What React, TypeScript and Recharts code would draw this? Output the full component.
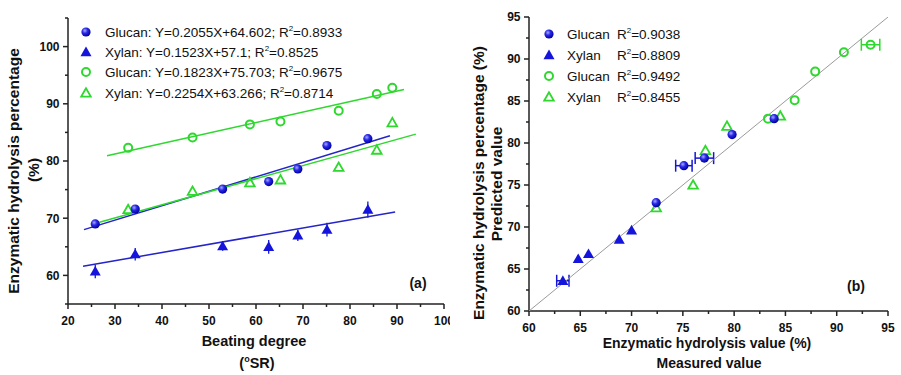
import React from "react";
import { ScatterChart, Scatter, XAxis, YAxis, ErrorBar } from "recharts";

// (a) beating degree vs hydrolysis
const blueDegree = [25.8, 34.3, 52.9, 62.7, 68.9, 75.1, 83.8];
const glucanBlue = [69.0, 71.6, 75.1, 76.4, 78.6, 82.7, 83.9];
const xylanBlue = [60.7, 63.7, 65.1, 65.0, 67.0, 68.0, 71.5];
const xylanBlueErr = [1.2, 1.1, 0.8, 1.2, 1.0, 1.2, 1.4];
const greenDegree = [32.8, 46.5, 58.7, 65.2, 77.6, 85.7, 89.0];
const glucanGreen = [82.3, 84.1, 86.4, 86.9, 88.8, 91.7, 92.8];
const xylanGreen = [71.5, 74.7, 76.2, 76.7, 78.9, 81.9, 86.7];

// fitted line end points
const fitBlueGlucan = [[23.4, 68.0], [88.5, 84.4]];
const fitBlueXylan = [[23.2, 61.6], [89.6, 71.1]];
const fitGreenGlucan = [[28.3, 80.9], [91.5, 92.5]];
const fitGreenXylan = [[26.7, 69.3], [94.0, 84.7]];

// (b) measured vs predicted
const gbMeasured = [72.4, 75.1, 77.1, 79.8, 83.9];
const gbPredicted = [72.9, 77.3, 78.2, 81.0, 82.9];
const gbErr = [0, 0.8, 0.9, 0, 0];
const xbMeasured = [63.3, 64.8, 65.8, 68.8, 70.0];
const xbPredicted = [63.6, 66.2, 66.8, 68.5, 69.6];
const xbErr = [0.6, 0, 0, 0, 0];
const ggMeasured = [83.3, 85.9, 87.9, 90.7, 93.3];
const ggPredicted = [82.9, 85.1, 88.5, 90.8, 91.7];
const ggErr = [0, 0, 0, 0, 0.9];
const xgMeasured = [72.4, 76.0, 77.2, 79.3, 84.5];
const xgPredicted = [72.3, 75.0, 79.1, 82.0, 83.2];
const diagonal = [[60, 60], [95, 95]];

const ticksA_x = [20, 25, 30, 35, 40, 45, 50, 55, 60, 65, 70, 75, 80, 85, 90, 95, 100];
const ticksA_y = [55, 60, 65, 70, 75, 80, 85, 90, 95, 100, 105];
const ticksB = [60, 62.5, 65, 67.5, 70, 72.5, 75, 77.5, 80, 82.5, 85, 87.5, 90, 92.5, 95];

const BLUE = "#1414dc";
const GREEN = "#2ed82e";
const AXIS = "#222";
const FONT = "'Liberation Sans', Arial, sans-serif";

const zip = (xs: number[], ys: number[], es?: number[]) =>
  xs.map((x, i) => ({ x, y: ys[i], e: es ? es[i] : 0 }));
const pts = (p: number[][]) => p.map(([x, y]) => ({ x, y }));

const isMajor = (v: number, step: number) => Math.abs(v / step - Math.round(v / step)) < 1e-6;

const xTick = (step: number) => (props: any) => {
  const { x, y, payload } = props;
  const major = isMajor(payload.value, step);
  return (
    <g>
      <line x1={x} x2={x} y1={y} y2={y + (major ? 5 : 3)} stroke={AXIS} strokeWidth={1.5} />
      {major && (
        <text x={x} y={y + 20.5} textAnchor="middle" fontSize={12} fontWeight="bold" fontFamily={FONT} fill="#111">
          {payload.value}
        </text>
      )}
    </g>
  );
};

const yTick = (step: number) => (props: any) => {
  const { x, y, payload } = props;
  const major = isMajor(payload.value, step);
  return (
    <g>
      <line x1={x} x2={x - (major ? 5 : 3)} y1={y} y2={y} stroke={AXIS} strokeWidth={1.5} />
      {major && (
        <text x={x - 8.5} y={y + 4.3} textAnchor="end" fontSize={12} fontWeight="bold" fontFamily={FONT} fill="#111">
          {payload.value}
        </text>
      )}
    </g>
  );
};

const Ball = (p: any) => <circle cx={p.cx} cy={p.cy} r={4.6} fill="url(#blueBall)" />;
const Ring = (p: any) => <circle cx={p.cx} cy={p.cy} r={4} fill="none" stroke={GREEN} strokeWidth={2} />;
const triPts = (cx: number, cy: number, s = 5.5) =>
  `${cx},${cy - s} ${cx - s},${cy + s * 0.75} ${cx + s},${cy + s * 0.75}`;
const SolidTri = (p: any) => <polygon points={triPts(p.cx, p.cy)} fill={BLUE} />;
const OpenTri = (p: any) => (
  <polygon points={triPts(p.cx, p.cy, 4.8)} fill="none" stroke={GREEN} strokeWidth={1.8} />
);
const NoDot = () => <g />;

const legendA = [
  { shape: "ball", text: "Glucan: Y=0.2055X+64.602; R", r2: "=0.8933" },
  { shape: "tri", text: "Xylan: Y=0.1523X+57.1; R", r2: "=0.8525" },
  { shape: "ring", text: "Glucan: Y=0.1823X+75.703; R", r2: "=0.9675" },
  { shape: "otri", text: "Xylan: Y=0.2254X+63.266; R", r2: "=0.8714" },
];
const legendB = [
  { shape: "ball", name: "Glucan", r2: "=0.9038" },
  { shape: "tri", name: "Xylan", r2: "=0.8809" },
  { shape: "ring", name: "Glucan", r2: "=0.9492" },
  { shape: "otri", name: "Xylan", r2: "=0.8455" },
];

const symbol = (shape: string, cx: number, cy: number) => {
  if (shape === "ball") return <Ball cx={cx} cy={cy} />;
  if (shape === "tri") return <SolidTri cx={cx} cy={cy} />;
  if (shape === "ring") return <Ring cx={cx} cy={cy} />;
  return <OpenTri cx={cx} cy={cy} />;
};

const textStyle = { fontFamily: FONT, fill: "#111" };

export default function App() {
  return (
    <div style={{ position: "absolute", left: 0, top: 0, width: 901, height: 375, background: "#fff", overflow: "hidden" }}>
      <svg width={0} height={0} style={{ position: "absolute" }}>
        <defs>
          <radialGradient id="blueBall" cx="38%" cy="35%" r="65%">
            <stop offset="0%" stopColor="#a8a8ff" />
            <stop offset="45%" stopColor="#2828e6" />
            <stop offset="100%" stopColor="#0000a0" />
          </radialGradient>
        </defs>
      </svg>

      <div style={{ position: "absolute", left: 0, top: 0 }}>
        <ScatterChart width={450} height={375} margin={{ top: 18, right: 6, bottom: 0, left: 0 }}>
          <XAxis type="number" dataKey="x" domain={[20, 100]} ticks={ticksA_x} interval={0}
            height={71} tickSize={0} tickMargin={0} tickLine={false} tick={xTick(10)}
            axisLine={{ stroke: AXIS, strokeWidth: 1.5 }} allowDataOverflow />
          <XAxis xAxisId="top" orientation="top" type="number" dataKey="x" domain={[20, 100]} height={0}
            tick={false} axisLine={{ stroke: AXIS, strokeWidth: 1.5 }} />
          <YAxis type="number" dataKey="y" domain={[55, 105]} ticks={ticksA_y} interval={0}
            width={68} tickSize={0} tickMargin={0} tickLine={false} tick={yTick(10)}
            axisLine={{ stroke: AXIS, strokeWidth: 1.5 }} allowDataOverflow />
          <YAxis yAxisId="right" orientation="right" type="number" dataKey="y" domain={[55, 105]} width={0}
            tick={false} axisLine={{ stroke: AXIS, strokeWidth: 1.5 }} />

          <Scatter data={pts(fitBlueGlucan)} shape={NoDot} line={{ stroke: "#2424c8", strokeWidth: 1.5 }} isAnimationActive={false} />
          <Scatter data={pts(fitBlueXylan)} shape={NoDot} line={{ stroke: "#2424c8", strokeWidth: 1.5 }} isAnimationActive={false} />
          <Scatter data={pts(fitGreenGlucan)} shape={NoDot} line={{ stroke: GREEN, strokeWidth: 1.5 }} isAnimationActive={false} />
          <Scatter data={pts(fitGreenXylan)} shape={NoDot} line={{ stroke: GREEN, strokeWidth: 1.5 }} isAnimationActive={false} />

          <Scatter data={zip(greenDegree, glucanGreen)} shape={Ring} isAnimationActive={false} />
          <Scatter data={zip(greenDegree, xylanGreen)} shape={OpenTri} isAnimationActive={false} />
          <Scatter data={zip(blueDegree, glucanBlue)} shape={Ball} isAnimationActive={false} />
          <Scatter data={zip(blueDegree, xylanBlue, xylanBlueErr)} shape={SolidTri} isAnimationActive={false}>
            <ErrorBar dataKey="e" direction="y" width={0} stroke={BLUE} strokeWidth={1.3} />
          </Scatter>
        </ScatterChart>
      </div>

      <div style={{ position: "absolute", left: 450, top: 0 }}>
        <ScatterChart width={451} height={375} margin={{ top: 17, right: 13, bottom: 0, left: 0 }}>
          <XAxis type="number" dataKey="x" domain={[60, 95]} ticks={ticksB} interval={0}
            height={64} tickSize={0} tickMargin={0} tickLine={false} tick={xTick(5)}
            axisLine={{ stroke: AXIS, strokeWidth: 1.5 }} allowDataOverflow />
          <XAxis xAxisId="top" orientation="top" type="number" dataKey="x" domain={[60, 95]} height={0}
            tick={false} axisLine={{ stroke: AXIS, strokeWidth: 1.5 }} />
          <YAxis type="number" dataKey="y" domain={[60, 95]} ticks={ticksB} interval={0}
            width={79} tickSize={0} tickMargin={0} tickLine={false} tick={yTick(5)}
            axisLine={{ stroke: AXIS, strokeWidth: 1.5 }} allowDataOverflow />
          <YAxis yAxisId="right" orientation="right" type="number" dataKey="y" domain={[60, 95]} width={0}
            tick={false} axisLine={{ stroke: AXIS, strokeWidth: 1.5 }} />

          <Scatter data={pts(diagonal)} shape={NoDot} line={{ stroke: "#9a9a9a", strokeWidth: 1 }} isAnimationActive={false} />

          <Scatter data={zip(xgMeasured, xgPredicted)} shape={OpenTri} isAnimationActive={false} />
          <Scatter data={zip(ggMeasured, ggPredicted, ggErr)} shape={Ring} isAnimationActive={false}>
            <ErrorBar dataKey="e" direction="x" width={6} stroke={GREEN} strokeWidth={1.5} />
          </Scatter>
          <Scatter data={zip(gbMeasured, gbPredicted, gbErr)} shape={Ball} isAnimationActive={false}>
            <ErrorBar dataKey="e" direction="x" width={6} stroke={BLUE} strokeWidth={1.5} />
          </Scatter>
          <Scatter data={zip(xbMeasured, xbPredicted, xbErr)} shape={SolidTri} isAnimationActive={false}>
            <ErrorBar dataKey="e" direction="x" width={6} stroke={BLUE} strokeWidth={1.5} />
          </Scatter>
        </ScatterChart>
      </div>

      <svg width={901} height={375} style={{ position: "absolute", left: 0, top: 0, pointerEvents: "none" }}>
        {/* panel (a) */}
        <text transform="translate(18.5,171) rotate(-90)" textAnchor="middle" fontSize={15.5} fontWeight="bold" {...textStyle}>
          Enzymatic hydrolysis percentage
        </text>
        <text transform="translate(38.5,170) rotate(-90)" textAnchor="middle" fontSize={15.5} fontWeight="bold" {...textStyle}>
          (%)
        </text>
        <text x={254} y={346} textAnchor="middle" fontSize={14.5} fontWeight="bold" {...textStyle}>
          Beating degree
        </text>
        <text x={257} y={368} textAnchor="middle" fontSize={14.5} fontWeight="bold" {...textStyle}>
          (<tspan fontSize={9} dy={-6}>o</tspan><tspan dy={6}>SR)</tspan>
        </text>
        <text x={418} y={288} textAnchor="middle" fontSize={14} fontWeight="bold" {...textStyle}>(a)</text>
        {legendA.map((l, i) => {
          const cy = [32, 52, 72, 93][i];
          return (
            <g key={"la" + i}>
              {symbol(l.shape, 86, cy)}
              <text x={105} y={cy + 4.8} fontSize={13.5} {...textStyle}>
                {l.text}<tspan fontSize={8} dy={-5.5}>2</tspan><tspan dy={5.5}>{l.r2}</tspan>
              </text>
            </g>
          );
        })}

        {/* panel (b) */}
        <text transform="translate(483.5,183) rotate(-90)" textAnchor="middle" fontSize={15.5} fontWeight="bold" {...textStyle}>
          Enzymatic hydrolysis percentage (%)
        </text>
        <text transform="translate(501.5,184) rotate(-90)" textAnchor="middle" fontSize={15.5} fontWeight="bold" {...textStyle}>
          Predicted value
        </text>
        <text x={707} y={348} textAnchor="middle" fontSize={14} fontWeight="bold" {...textStyle}>
          Enzymatic hydrolysis value (%)
        </text>
        <text x={709} y={368} textAnchor="middle" fontSize={14} fontWeight="bold" {...textStyle}>
          Measured value
        </text>
        <text x={856} y={291} textAnchor="middle" fontSize={14} fontWeight="bold" {...textStyle}>(b)</text>
        {legendB.map((l, i) => {
          const cy = [34, 55, 76, 97][i];
          return (
            <g key={"lb" + i}>
              {symbol(l.shape, 549, cy)}
              <text x={567} y={cy + 4.8} fontSize={13.5} {...textStyle}>{l.name}</text>
              <text x={617} y={cy + 4.8} fontSize={13.5} {...textStyle}>
                R<tspan fontSize={8} dy={-5.5}>2</tspan><tspan dy={5.5}>{l.r2}</tspan>
              </text>
            </g>
          );
        })}
      </svg>
    </div>
  );
}
